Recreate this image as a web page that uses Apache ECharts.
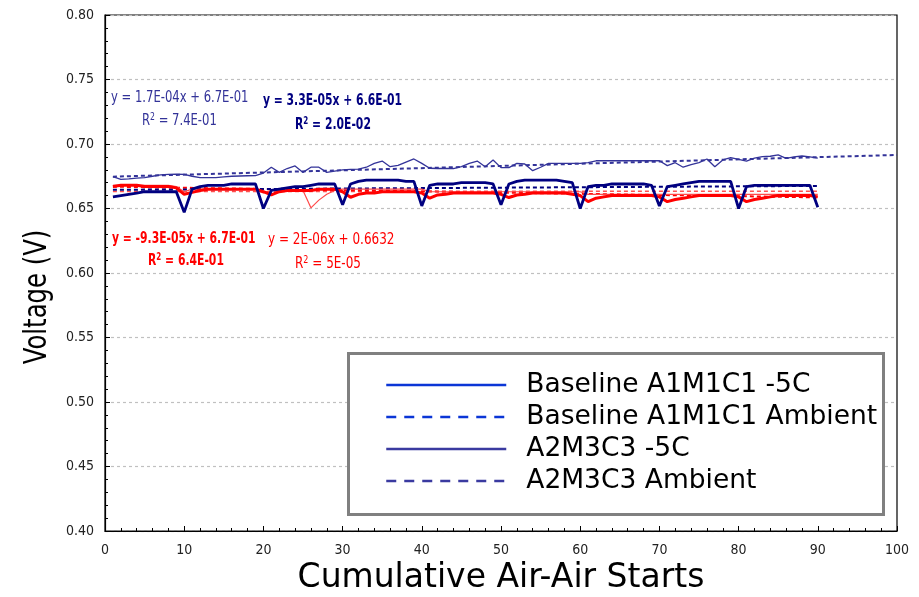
<!DOCTYPE html>
<html>
<head>
<meta charset="utf-8">
<script src="https://cdn.jsdelivr.net/npm/echarts@6/dist/echarts.min.js"></script>
<style>html,body{margin:0;padding:0;background:#fff}#c{width:919px;height:597px}</style>
</head>
<body>
<div id="c"></div>
<script>
// ---- data ----
const seriesNames = ['Baseline A1M1C1 -5C', 'Baseline A1M1C1 Ambient', 'A2M3C3 -5C', 'A2M3C3 Ambient'];
const xTickLabels = ['0','10','20','30','40','50','60','70','80','90','100'];
const yTickLabels = ['0.40','0.45','0.50','0.55','0.60','0.65','0.70','0.75','0.80'];

// starts 1..90
const baselineM5 = [
 0.659,0.660,0.661,0.662,0.663,0.663,0.663,0.663,0.663,0.647,
 0.665,0.667,0.668,0.668,0.668,0.669,0.669,0.669,0.669,0.650,
 0.664,0.665,0.666,0.667,0.667,0.668,0.669,0.669,0.669,0.653,
 0.669,0.671,0.672,0.672,0.672,0.672,0.672,0.671,0.671,0.652,
 0.668,0.669,0.669,0.669,0.670,0.670,0.670,0.670,0.669,0.653,
 0.669,0.671,0.672,0.672,0.672,0.672,0.672,0.671,0.670,0.650,
 0.667,0.668,0.668,0.669,0.669,0.669,0.669,0.669,0.668,0.652,
 0.667,0.668,0.669,0.670,0.671,0.671,0.671,0.671,0.671,0.650,
 0.667,0.668,0.668,0.668,0.668,0.668,0.668,0.668,0.668,0.651];
const baselineAmb = [
 0.667,0.668,0.668,0.668,0.667,0.667,0.667,0.667,0.666,0.661,
 0.6625,0.664,0.665,0.665,0.665,0.665,0.665,0.665,0.665,0.663,
 0.6605,0.663,0.664,0.664,0.664,0.664,0.665,0.665,0.665,0.663,
 0.6587,0.661,0.662,0.662,0.663,0.663,0.663,0.663,0.663,0.662,
 0.658,0.6605,0.661,0.662,0.662,0.662,0.662,0.662,0.662,0.661,
 0.6585,0.6605,0.661,0.662,0.662,0.662,0.662,0.662,0.661,0.660,
 0.6553,0.658,0.659,0.660,0.660,0.660,0.660,0.660,0.660,0.659,
 0.6553,0.657,0.658,0.659,0.660,0.660,0.660,0.660,0.660,0.659,
 0.6553,0.657,0.658,0.659,0.660,0.660,0.660,0.660,0.660,0.659];
const a2m3c3M5 = [
 0.6747,0.6726,0.673,0.6735,0.674,0.675,0.676,0.6765,0.6767,0.6765,
 0.675,0.674,0.6739,0.674,0.6745,0.675,0.6752,0.6754,0.6755,0.6775,
 0.682,0.678,0.681,0.683,0.678,0.682,0.682,0.678,0.679,0.680,
 0.6804,0.6805,0.682,0.685,0.6868,0.6824,0.6835,0.686,0.6884,0.685,
 0.6812,0.681,0.681,0.681,0.6825,0.685,0.6868,0.6824,0.6876,0.6817,
 0.6817,0.685,0.6845,0.6793,0.682,0.685,0.685,0.685,0.685,0.685,
 0.6855,0.687,0.687,0.687,0.687,0.687,0.687,0.687,0.687,0.687,
 0.6832,0.6855,0.682,0.684,0.6855,0.6884,0.6824,0.6876,0.6894,0.688,
 0.6868,0.689,0.6902,0.6905,0.6915,0.6889,0.690,0.6907,0.690,0.689];
const a2m3c3Amb = [
 0.668,0.668,0.668,0.668,0.668,0.668,0.668,0.668,0.667,0.663,
 0.665,0.665,0.665,0.665,0.665,0.665,0.665,0.665,0.665,0.662,
 0.664,0.664,0.664,0.664,0.664,0.6505,0.6565,0.661,0.664,0.665,
 0.665,0.665,0.665,0.665,0.665,0.665,0.665,0.665,0.665,0.665,
 0.663,0.663,0.663,0.663,0.663,0.663,0.663,0.663,0.663,0.663,
 0.663,0.663,0.663,0.663,0.663,0.663,0.663,0.663,0.663,0.663,
 0.661,0.661,0.661,0.661,0.661,0.661,0.661,0.661,0.661,0.661,
 0.661,0.661,0.661,0.661,0.661,0.661,0.661,0.661,0.661,0.661,
 0.661,0.661,0.661,0.661,0.661,0.661,0.661,0.661,0.661,0.661];

// linear trend end points [start, value]
const trendA2M3C3M5 = [[1, 0.6747], [100, 0.6915]];
const trendBaselineM5 = [[1, 0.6645], [90, 0.6675]];
const trendBaselineAmb = [[1, 0.6669], [90, 0.6586]];
const trendA2M3C3Amb = [[1, 0.6632], [90, 0.6634]];

// trendline equation labels
const eqA2M3C3M5 = ['y = 1.7E-04x + 6.7E-01', '7.4E-01'];
const eqBaselineM5 = ['y = 3.3E-05x + 6.6E-01', '2.0E-02'];
const eqBaselineAmb = ['y = -9.3E-05x + 6.7E-01', '6.4E-01'];
const eqA2M3C3Amb = ['y = 2E-06x + 0.6632', '5E-05'];

const toXY = arr => arr.map((v, i) => [i + 1, v]);

const chart = echarts.init(document.getElementById('c'), null, {renderer: 'canvas'});
const NARROW = '"Liberation Sans Narrow", "DejaVu Sans Condensed", sans-serif';
const NAVY = '#000080', NAVY2 = '#333399', RED = '#ff0000';

function eqText(lines, color, bold, sx, x1, y1, x2, y2) {
  const fw = bold ? 'bold' : 'normal';
  return [
    {type: 'text', x: x1, y: y1, scaleX: sx, z: 10, style: {text: lines[0], fill: color, font: fw + ' 15px ' + NARROW, align: 'left', verticalAlign: 'top'}},
    {type: 'text', x: x2, y: y2, scaleX: sx, z: 10, style: {
      text: '{r|R}{s|2}{r| = ' + lines[1] + '}', align: 'left', verticalAlign: 'top',
      rich: {
        r: {fill: color, fontFamily: NARROW, fontSize: 15, fontWeight: fw},
        s: {fill: color, fontFamily: NARROW, fontSize: 10, fontWeight: fw, verticalAlign: 'top', padding: [0,0,8,0]}
      }
    }}
  ];
}

const trendStyle = (c, w) => ({color: c, width: w, type: [4, 3]});
const hideSym = {opacity: 0};

chart.setOption({
  animation: false,
  backgroundColor: '#fff',
  grid: {left: 105, right: 22, top: 15, bottom: 66, show: true, borderColor: '#000', borderWidth: 1.2,
         backgroundColor: 'transparent', containLabel: false, outerBoundsMode: 'none'},
  xAxis: {
    type: 'value', min: 0, max: 100, interval: 10,
    name: 'Cumulative Air-Air Starts', nameLocation: 'middle', nameGap: 31,
    nameTextStyle: {fontFamily: 'DejaVu Sans', fontSize: 33, color: '#000'},
    axisLine: {lineStyle: {color: '#000', width: 1.2}},
    axisTick: {inside: true, length: 5, lineStyle: {color: '#000'}},
    minorTick: {show: true, splitNumber: 5, length: 3, lineStyle: {color: '#000'}},
    splitLine: {show: false},
    axisLabel: {margin: 12, fontFamily: NARROW, fontSize: 14, color: '#222',
      formatter: v => xTickLabels[Math.round(v / 10)]}
  },
  yAxis: {
    type: 'value', min: 0.40, max: 0.80, interval: 0.05,
    axisLine: {show: true, lineStyle: {color: '#000', width: 1.2}},
    axisTick: {inside: true, length: 5, lineStyle: {color: '#000'}},
    minorTick: {show: true, splitNumber: 5, length: 3, lineStyle: {color: '#000'}},
    splitLine: {show: true, lineStyle: {color: '#c0c0c0', type: [3, 3], width: 1.2}},
    axisLabel: {margin: 11, fontFamily: NARROW, fontSize: 14, color: '#222',
      formatter: v => yTickLabels[Math.round((v - 0.40) / 0.05)]}
  },
  legend: {
    orient: 'vertical', left: 385, top: 371, padding: 0,
    itemWidth: 120, itemHeight: 14, itemGap: 4,
    textStyle: {fontFamily: 'DejaVu Sans', fontSize: 26.5, color: '#000', padding: [0, 0, 0, 15], lineHeight: 28},
    data: [
      {name: seriesNames[0], lineStyle: {color: '#0b36d6', width: 2.5, type: 'solid', opacity: 1}, itemStyle: hideSym},
      {name: seriesNames[1], lineStyle: {color: '#0b36d6', width: 2.5, type: [10, 8], opacity: 1}, itemStyle: hideSym},
      {name: seriesNames[2], lineStyle: {color: '#3a3aa0', width: 2.5, type: 'solid', opacity: 1}, itemStyle: hideSym},
      {name: seriesNames[3], lineStyle: {color: '#3a3aa0', width: 2.5, type: [10, 8], opacity: 1}, itemStyle: hideSym}
    ]
  },
  graphic: [
    {type: 'rect', left: 347, top: 352, z: 3, shape: {width: 535, height: 161},
     style: {fill: '#fff', stroke: '#808080', lineWidth: 3}},
    {type: 'text', x: 38, y: 297, rotation: Math.PI / 2, scaleX: 0.76, z: 10,
     style: {text: 'Voltage (V)', font: '32px "DejaVu Sans"', fill: '#000', align: 'center', verticalAlign: 'middle'}},
    ...eqText(eqA2M3C3M5, NAVY2, false, 0.86, 111, 91, 142, 112),
    ...eqText(eqBaselineM5, NAVY, true, 0.80, 263, 94, 295, 116),
    ...eqText(eqBaselineAmb, RED, true, 0.80, 112, 232, 148, 252),
    ...eqText(eqA2M3C3Amb, RED, false, 0.89, 268, 233, 295, 255)
  ],
  series: [
    {name: 'trend4', type: 'line', data: trendA2M3C3Amb, symbol: 'none', silent: true, lineStyle: trendStyle('#ff5050', 1.5), z: 2},
    {name: 'trend3', type: 'line', data: trendBaselineAmb, symbol: 'none', silent: true, lineStyle: trendStyle(RED, 2), z: 2},
    {name: 'trend2', type: 'line', data: trendBaselineM5, symbol: 'none', silent: true, lineStyle: trendStyle(NAVY, 2), z: 2},
    {name: 'trend1', type: 'line', data: trendA2M3C3M5, symbol: 'none', silent: true, lineStyle: trendStyle(NAVY2, 2), z: 2},
    {name: seriesNames[3], type: 'line', data: toXY(a2m3c3Amb), symbol: 'none', lineStyle: {color: '#ff4a4a', width: 1.2}, itemStyle: {color: '#ff4a4a'}, z: 3},
    {name: seriesNames[1], type: 'line', data: toXY(baselineAmb), symbol: 'none', lineStyle: {color: RED, width: 3}, itemStyle: {color: RED}, z: 4},
    {name: seriesNames[2], type: 'line', data: toXY(a2m3c3M5), symbol: 'none', lineStyle: {color: NAVY2, width: 1.3}, itemStyle: {color: NAVY2}, z: 4},
    {name: seriesNames[0], type: 'line', data: toXY(baselineM5), symbol: 'none', lineStyle: {color: NAVY, width: 2.8}, itemStyle: {color: NAVY}, z: 5}
  ]
});
</script>
</body>
</html>
